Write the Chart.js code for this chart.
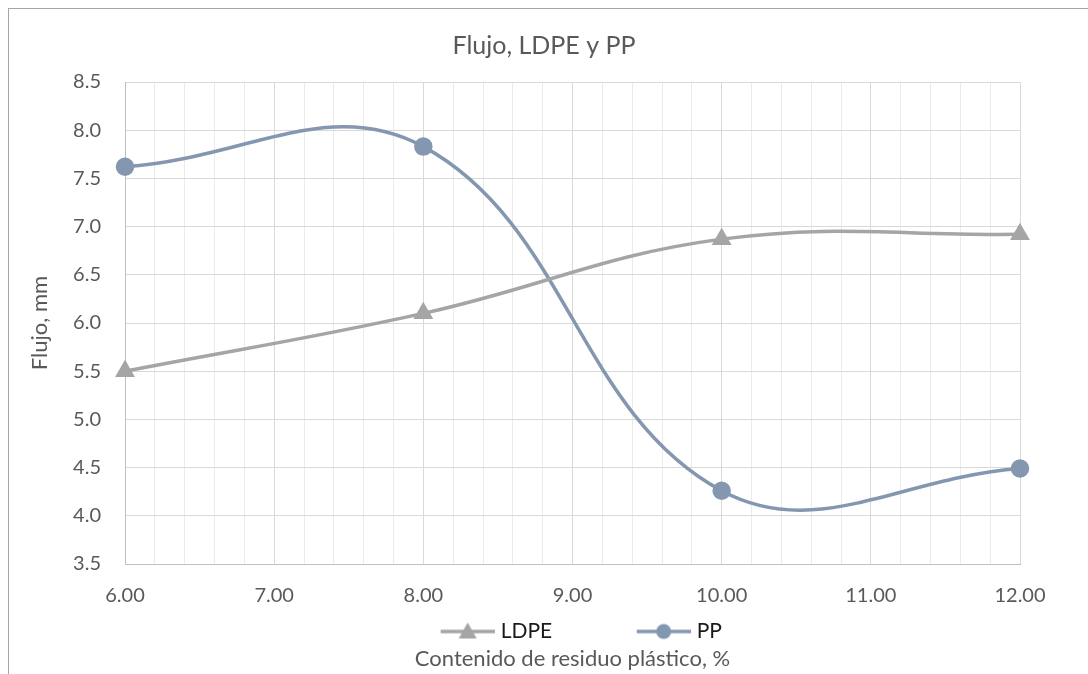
<!DOCTYPE html>
<html>
<head>
<meta charset="utf-8">
<script src="https://cdn.jsdelivr.net/npm/chart.js@4/dist/chart.umd.min.js"></script>
<style>
  html, body { margin: 0; padding: 0; background: #fff; }
  #wrap { position: relative; width: 1088px; height: 674px; }
  #frame { position: absolute; left: 8px; top: 8px; right: -10px; bottom: -10px;
           border-top: 1px solid #a6a6a6; border-left: 1px solid #a6a6a6; pointer-events: none; }
</style>
</head>
<body>
<div id="wrap">
  <canvas id="flujo" width="1088" height="674"></canvas>
  <div id="frame"></div>
</div>
<script>
// ===== data =====
var contenido = [6, 8, 10, 12];           // % residuo plastico
var flujoLDPE = [5.50, 6.10, 6.87, 6.92];
var flujoPP   = [7.62, 7.83, 4.26, 4.49];

var colorLDPE = '#a5a5a5';
var colorPP = '#8497b0';
var textGray = '#595959';

function toXY(xs, ys) {
    return xs.map(function(x, i) { return {x: x, y: ys[i]}; });
}

// legend swatch: transparent gap on the left, then line with marker in the middle
var swatchBox = 124;
function legendSwatch(color, shape) {
    var w = 54, h = 20;
    var c = document.createElement('canvas');
    c.width = swatchBox + 9; c.height = h;
    var gap = c.width - w;
    var g = c.getContext('2d');
    g.strokeStyle = color; g.fillStyle = color; g.lineWidth = 3.5;
    g.beginPath(); g.moveTo(gap, h / 2); g.lineTo(gap + w, h / 2); g.stroke();
    var cx = gap + w / 2, cy = h / 2;
    g.beginPath();
    if (shape === 'triangle') {
        g.moveTo(cx, cy - 9); g.lineTo(cx + 9, cy + 7); g.lineTo(cx - 9, cy + 7);
        g.closePath();
    } else {
        g.arc(cx, cy, 7.5, 0, Math.PI * 2);
    }
    g.fill();
    return c;
}

var swatches = [legendSwatch(colorLDPE, 'triangle'), legendSwatch(colorPP, 'circle')];

var ctx = document.getElementById('flujo');
var chartFlujo = new Chart(ctx, {
    type: 'line',
    data: {
        datasets: [{
            label: 'LDPE',
            data: toXY(contenido, flujoLDPE),
            borderColor: colorLDPE,
            backgroundColor: colorLDPE,
            borderWidth: 3.5,
            pointStyle: 'triangle',
            pointRadius: 8,
            pointHoverRadius: 8,
            tension: 0.4,
            clip: false
        }, {
            label: 'PP',
            data: toXY(contenido, flujoPP),
            borderColor: colorPP,
            backgroundColor: colorPP,
            borderWidth: 3.5,
            pointStyle: 'circle',
            pointRadius: 7.5,
            pointHoverRadius: 7.5,
            tension: 0.4,
            clip: false
        }]
    },
    options: {
        responsive: false,
        animation: false,
        layout: { padding: 0 },
        plugins: {
            title: {
                display: true,
                text: 'Flujo, LDPE y PP',
                color: textGray,
                font: { family: 'Lato', size: 25, weight: 'normal' },
                padding: { top: 31, bottom: 21 }
            },
            subtitle: {
                display: true,
                position: 'bottom',
                fullSize: false,
                text: 'Contenido de residuo plástico, %',
                color: textGray,
                font: { family: 'Lato', size: 22, weight: 'normal', lineHeight: 1 },
                padding: { top: -4, bottom: 4 }
            },
            legend: {
                position: 'bottom',
                labels: {
                    usePointStyle: true,
                    pointStyleWidth: swatchBox,
                    padding: 10,
                    color: '#1a1a1a',
                    font: { family: 'Lato', size: 21 },
                    generateLabels: function(chart) {
                        return chart.data.datasets.map(function(ds, i) {
                            return {
                                text: ds.label,
                                pointStyle: swatches[i],
                                fillStyle: ds.backgroundColor,
                                strokeStyle: ds.borderColor,
                                lineWidth: 0,
                                fontColor: '#1a1a1a',
                                datasetIndex: i
                            };
                        });
                    }
                }
            },
            tooltip: { enabled: false }
        },
        scales: {
            x: {
                type: 'linear',
                min: 6,
                max: 12,
                ticks: {
                    stepSize: 0.2,
                    autoSkip: false,
                    maxRotation: 0,
                    padding: 20,
                    color: textGray,
                    font: { family: 'Lato', size: 20 },
                    callback: function(v) {
                        return Math.abs(v - Math.round(v)) < 1e-6 ? v.toFixed(2) : '';
                    }
                },
                grid: {
                    drawTicks: false,
                    color: function(c) {
                        var v = c.tick ? c.tick.value : 0;
                        return Math.abs(v - Math.round(v)) < 1e-6 ? '#d9d9d9' : '#ebebeb';
                    }
                },
                border: { color: '#bfbfbf' },
                afterFit: function(scale) { scale.height = 47; }
            },
            y: {
                min: 3.5,
                max: 8.5,
                ticks: {
                    stepSize: 0.5,
                    padding: 24,
                    color: textGray,
                    font: { family: 'Lato', size: 20 },
                    callback: function(v) { return v.toFixed(1); }
                },
                grid: { drawTicks: false, color: '#d9d9d9' },
                border: { color: '#bfbfbf' },
                title: {
                    display: true,
                    text: 'Flujo, mm',
                    color: textGray,
                    font: { family: 'Lato', size: 22 },
                    padding: { top: 27 }
                },
                afterFit: function(scale) { scale.width = 125; }
            },
            // empty right axis, only keeps the plot clear of the right edge
            yRight: {
                position: 'right',
                display: true,
                min: 3.5,
                max: 8.5,
                ticks: { display: false },
                grid: { display: false, drawOnChartArea: false },
                border: { display: false },
                afterFit: function(scale) { scale.width = 68; }
            }
        }
    }
});
</script>
</body>
</html>
